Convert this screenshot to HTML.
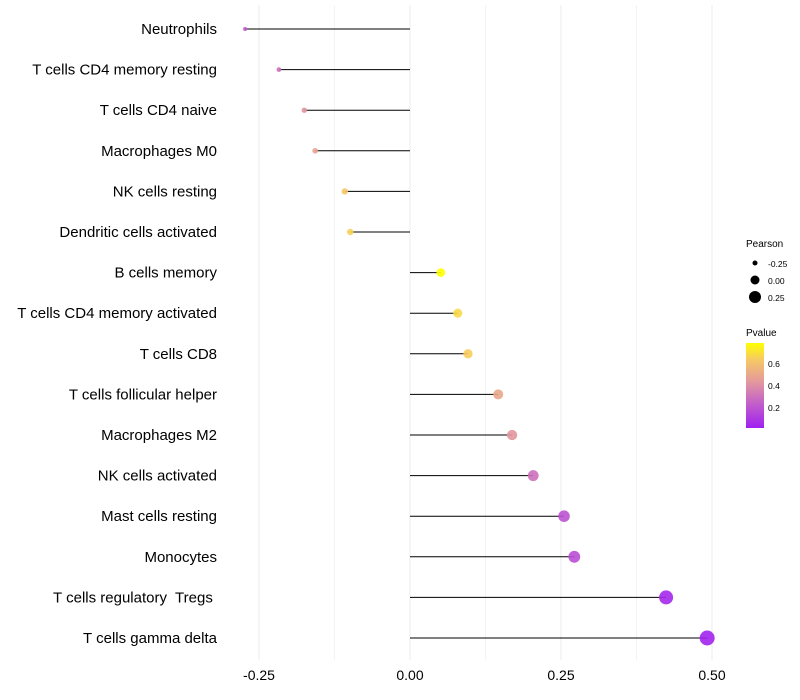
<!DOCTYPE html>
<html><head><meta charset="utf-8"><style>
body{margin:0;background:#fff;font-family:"Liberation Sans",sans-serif}
svg{display:block}
text{white-space:pre}
</style></head><body>
<svg id="chart" width="800" height="700" xmlns="http://www.w3.org/2000/svg">
<defs><linearGradient id="pg" x1="0" y1="1" x2="0" y2="0">
<stop offset="0" stop-color="#a020f0"/><stop offset="0.3" stop-color="#c462c8"/><stop offset="0.55" stop-color="#e49a9c"/><stop offset="0.8" stop-color="#f6c866"/><stop offset="1" stop-color="#ffff00"/></linearGradient></defs>
<g id="grid"></g><g id="marks"></g><g id="labels"></g>
<g font-size="10">
<text x="746" y="247">Pearson</text>
<circle cx="755" cy="263" r="2.5" fill="#000"/><text x="768" y="267" font-size="8.5">-0.25</text>
<circle cx="755" cy="280" r="4.5" fill="#000"/><text x="768" y="284" font-size="8.5">0.00</text>
<circle cx="755" cy="297" r="6" fill="#000"/><text x="768" y="301" font-size="8.5">0.25</text>
<text x="746" y="336">Pvalue</text>
<rect x="746" y="343" width="18" height="85" fill="url(#pg)"/>
<text x="768" y="367" font-size="8.5">0.6</text><text x="768" y="389" font-size="8.5">0.4</text><text x="768" y="411" font-size="8.5">0.2</text>
</g>
</svg>
<script>
const categories=["Neutrophils","T cells CD4 memory resting","T cells CD4 naive","Macrophages M0","NK cells resting","Dendritic cells activated","B cells memory","T cells CD4 memory activated","T cells CD8","T cells follicular helper","Macrophages M2","NK cells activated","Mast cells resting","Monocytes","T cells regulatory  Tregs ","T cells gamma delta"];
const pearson=[-0.273,-0.217,-0.175,-0.157,-0.108,-0.099,0.051,0.079,0.096,0.146,0.169,0.204,0.255,0.272,0.424,0.492];
const pvalue=[0.22,0.3,0.42,0.48,0.63,0.66,0.79,0.68,0.65,0.5,0.43,0.3,0.2,0.18,0.05,0.03];
const xTicks=[-0.25,0,0.25,0.5];
const xTickLabels=["-0.25","0.00","0.25","0.50"];
const NS="http://www.w3.org/2000/svg";
const x=v=>410+v*604;
const y=i=>29+i*40.6;
const stops=[[0,[160,32,240]],[0.3,[196,98,200]],[0.55,[228,154,156]],[0.8,[246,200,102]],[1,[255,255,0]]];
function col(p){let t=(p-0.02)/(0.79-0.02);t=Math.max(0,Math.min(1,t));
for(let k=1;k<stops.length;k++){if(t<=stops[k][0]){const a=stops[k-1],b=stops[k],f=(t-a[0])/(b[0]-a[0]);
return "rgb("+a[1].map((c,j)=>Math.round(c+(b[1][j]-c)*f)).join(",")+")";}}return "rgb(255,255,0)";}
const rad=v=>2+(v+0.273)/(0.765)*5.5;
function mk(tag,attrs,parent){const e=document.createElementNS(NS,tag);for(const k in attrs)e.setAttribute(k,attrs[k]);parent.appendChild(e);return e;}
const grid=document.getElementById('grid'),marks=document.getElementById('marks'),labels=document.getElementById('labels');
for(let v=-0.25;v<=0.501;v+=0.125){const major=Math.abs(v/0.25-Math.round(v/0.25))<1e-6;
const g=mk('line',{x1:x(v),x2:x(v),y1:5,y2:660,stroke:'#ebebeb','stroke-width':major?1:0.6},grid);

}
xTicks.forEach((v,i)=>{const t=mk('text',{x:x(v),y:680,'text-anchor':'middle','font-size':14,fill:'#000'},labels);t.textContent=xTickLabels[i];

});
categories.forEach((c,i)=>{
const t=mk('text',{x:217,y:y(i)+5,'text-anchor':'end','font-size':15,fill:'#000'},labels);t.textContent=c;


const l=mk('line',{x1:x(0),x2:x(pearson[i]),y1:y(i),y2:y(i),stroke:'#000','stroke-width':1},marks);


const d=mk('circle',{cx:x(pearson[i]),cy:y(i),r:rad(pearson[i]),fill:col(pvalue[i]),'fill-opacity':0.9},marks);


});
</script>
</body></html>
